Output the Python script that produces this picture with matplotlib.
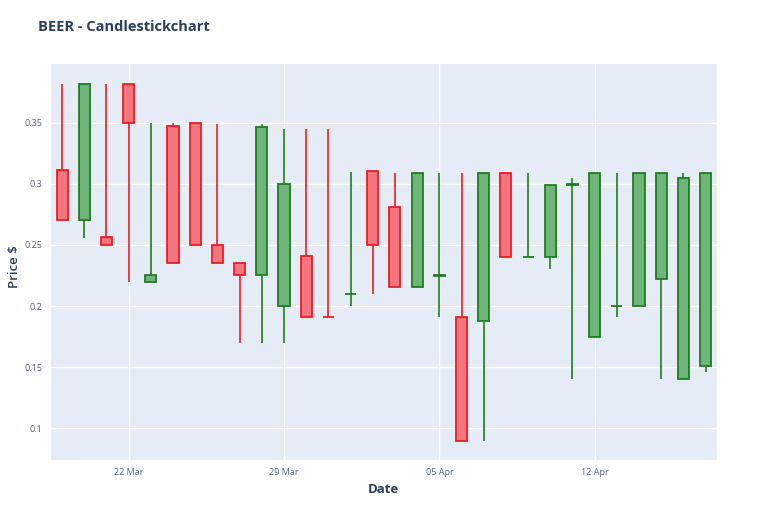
import numpy as np
import pandas as pd
import matplotlib
matplotlib.use("Agg")
import matplotlib.pyplot as plt
import matplotlib.dates as mdates
from matplotlib.ticker import FuncFormatter

# daily OHLC
dates = pd.date_range("2021-03-19", "2021-04-17", freq="D")
opens = [0.311, 0.270, 0.2562, 0.382, 0.220, 0.347, 0.350, 0.250, 0.235, 0.225,
         0.200, 0.2412, 0.1912, 0.2098, 0.3105, 0.2813, 0.216, 0.2249, 0.191, 0.1878,
         0.3086, 0.2399, 0.240, 0.299, 0.175, 0.1999, 0.200, 0.222, 0.140, 0.1513]
highs = [0.382, 0.382, 0.382, 0.382, 0.350, 0.350, 0.350, 0.349, 0.235, 0.3486,
         0.345, 0.345, 0.345, 0.310, 0.3105, 0.3086, 0.3086, 0.3086, 0.3086, 0.3086,
         0.3086, 0.3086, 0.299, 0.3045, 0.3086, 0.3086, 0.3086, 0.3086, 0.3086, 0.3086]
lows = [0.270, 0.256, 0.250, 0.220, 0.220, 0.235, 0.250, 0.235, 0.170, 0.170,
        0.170, 0.191, 0.191, 0.200, 0.210, 0.216, 0.216, 0.191, 0.090, 0.090,
        0.240, 0.240, 0.230, 0.140, 0.175, 0.191, 0.200, 0.140, 0.140, 0.1464]
closes = [0.270, 0.382, 0.250, 0.350, 0.2254, 0.235, 0.250, 0.235, 0.225, 0.3467,
          0.2998, 0.191, 0.191, 0.210, 0.250, 0.2159, 0.3086, 0.2251, 0.090, 0.3086,
          0.240, 0.240, 0.299, 0.300, 0.3086, 0.200, 0.3086, 0.3086, 0.305, 0.3086]

INC_LINE, INC_FILL = "#1f7d1f", "#6fb478"
DEC_LINE, DEC_FILL = "#ee1c24", "#f3767e"
TXT = "#2a3f5f"

plt.rcParams["font.family"] = ["Open Sans", "DejaVu Sans"]

fig = plt.figure(figsize=(7.68, 5.12), dpi=100)
ax = fig.add_axes([0.0664, 0.1016, 0.8668, 0.7734])
ax.set_facecolor("#E5ECF6")

x = mdates.date2num(dates)
body_w = 0.5
for xi, o, h, l, c in zip(x, opens, highs, lows, closes):
    up = c > o
    lc, fc = (INC_LINE, INC_FILL) if up else (DEC_LINE, DEC_FILL)
    lo_b, hi_b = min(o, c), max(o, c)
    ax.plot([xi, xi], [hi_b, h], color=lc, lw=1.2, solid_capstyle="butt", zorder=3)
    ax.plot([xi, xi], [l, lo_b], color=lc, lw=1.2, solid_capstyle="butt", zorder=3)
    ax.add_patch(plt.Rectangle((xi - body_w / 2, lo_b), body_w, hi_b - lo_b,
                               facecolor=fc, edgecolor=lc, lw=1.3, zorder=4))

ax.set_xlim(x[0] - 0.5, x[-1] + 0.5)
ax.set_ylim(0.0741, 0.398)

ax.xaxis.set_major_locator(mdates.DayLocator(bymonthday=[22, 29, 5, 12]))
ax.xaxis.set_major_formatter(mdates.DateFormatter("%d %b"))
ax.set_yticks([0.1, 0.15, 0.2, 0.25, 0.3, 0.35])
ax.yaxis.set_major_formatter(FuncFormatter(lambda v, p: f"{v:g}"))
ax.grid(True, color="white", lw=1.0)
ax.set_axisbelow(True)
ax.tick_params(length=0, labelsize=6.5, colors="#506784", pad=6)
for s in ax.spines.values():
    s.set_visible(False)

ax.set_xlabel("Date", fontsize=9.5, fontweight="bold", color=TXT, labelpad=4)
fig.text(14 / 768, 1 - 267 / 512, "Price $", fontsize=9.5, fontweight="semibold",
         color=TXT, rotation=90, va="center", ha="center")
fig.text(38 / 768, 1 - 27 / 512, "BEER - Candlestickchart", fontsize=10.5,
         fontweight="bold", color=TXT, va="center", ha="left")

fig.savefig("out.png", dpi=100)
